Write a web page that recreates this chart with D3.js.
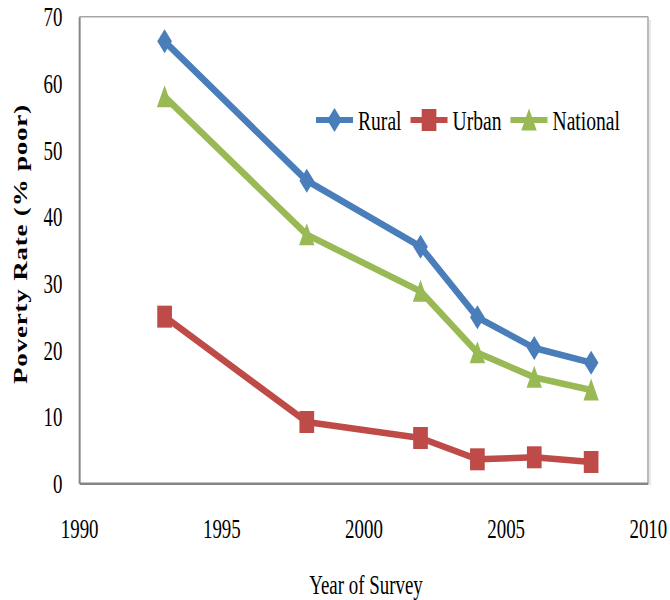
<!DOCTYPE html>
<meta charset="utf-8">
<style>
    body { margin: 0; background: #fff; }
    text { font-family: "Liberation Serif", "Times New Roman", serif; fill: #000; }
    .series path.line { fill: none; stroke-width: 6.5; stroke-linejoin: round; vector-effect: non-scaling-stroke; }
</style>
<svg width="670" height="600"></svg>

<script src="https://d3js.org/d3.v7.min.js"></script>
<script>
    // survey data
    var years = [1993, 1998, 2002, 2004, 2006, 2008];
    var rural = [66.3, 45.4, 35.5, 24.9, 20.3, 18.1];
    var urban = [25.0, 9.2, 6.8, 3.6, 3.9, 3.2];
    var national = [58.0, 37.3, 28.8, 19.6, 15.9, 14.0];
    var xTicks = [1990, 1995, 2000, 2005, 2010];
    var yTicks = [0, 10, 20, 30, 40, 50, 60, 70];

    var series = [
        { name: "Rural", values: rural, color: "#4A7EBB", shape: "diamond" },
        { name: "Urban", values: urban, color: "#BE4B48", shape: "square" },
        { name: "National", values: national, color: "#98B954", shape: "triangle" }
    ];

    // the original picture is squeezed sideways, so draw in a stretched space
    var sx = 0.7;
    var svg = d3.select("svg"),
        root = svg.append("g").attr("transform", "scale(" + sx + ",1)");

    var plotLeft = 79.3 / sx, plotRight = 648 / sx, plotTop = 16.7, plotBottom = 483.3;

    var x = d3.scaleLinear().domain([1990, 2010]).range([plotLeft, plotRight]);
    var y = d3.scaleLinear().domain([0, 70]).range([plotBottom, plotTop]);

    var shapes = {
        diamond: "M0,-12L10.5,0L0,12L-10.5,0Z",
        square: "M-10.5,-11L10.5,-11L10.5,11L-10.5,11Z",
        triangle: "M0,-11.5L11,10.5L-11,10.5Z"
    };

    // plot frame
    root.append("line").attr("x1", plotLeft).attr("x2", plotRight).attr("y1", plotTop).attr("y2", plotTop)
        .attr("stroke", "#a6a6a6").attr("stroke-width", 1.5).style("vector-effect", "non-scaling-stroke");
    root.append("line").attr("x1", plotRight).attr("x2", plotRight).attr("y1", plotTop).attr("y2", plotBottom)
        .attr("stroke", "#a6a6a6").attr("stroke-width", 1.5).style("vector-effect", "non-scaling-stroke");
    root.append("line").attr("x1", plotRight + 2 / sx).attr("x2", plotRight + 2 / sx).attr("y1", plotTop + 3).attr("y2", plotBottom + 2)
        .attr("stroke", "#e0e0e0").attr("stroke-width", 1.5).style("vector-effect", "non-scaling-stroke");

    // axes
    var yAxis = d3.axisLeft(y).tickValues(yTicks).tickSize(0).tickPadding(24);
    var xAxis = d3.axisBottom(x).tickValues(xTicks).tickSize(0).tickPadding(45).tickFormat(d3.format("d"));

    root.append("g").attr("transform", "translate(" + plotLeft + ",0)").call(yAxis)
        .call(function(g) {
            g.select(".domain").attr("stroke", "#868686").attr("stroke-width", 2).style("vector-effect", "non-scaling-stroke");
            g.selectAll("text").attr("font-size", 27).attr("font-family", "Liberation Serif").attr("fill", "#000").attr("dy", "0.34em");
        });
    root.append("g").attr("transform", "translate(0," + plotBottom + ")").call(xAxis)
        .call(function(g) {
            g.select(".domain").attr("stroke", "#868686").attr("stroke-width", 2.5).style("vector-effect", "non-scaling-stroke");
            g.selectAll("text").attr("font-size", 27).attr("font-family", "Liberation Serif").attr("fill", "#000").attr("dy", "0.35em");
        });

    // axis titles
    root.append("text")
        .attr("transform", "translate(" + (27 / sx) + "," + 244 + ") rotate(-90)")
        .attr("text-anchor", "middle")
        .attr("font-size", 27)
        .attr("font-weight", "bold")
        .attr("letter-spacing", 0.8)
        .text("Poverty Rate (% poor)");

    root.append("text")
        .attr("x", 366 / sx).attr("y", 585).attr("dy", "0.35em")
        .attr("text-anchor", "middle")
        .attr("font-size", 27)
        .text("Year of Survey");

    // lines and markers
    var line = d3.line()
        .x(function(d, i) { return x(years[i]); })
        .y(function(d) { return y(d); });

    var g = root.selectAll(".series").data(series).enter().append("g").attr("class", "series");
    g.append("path").attr("class", "line")
        .attr("stroke", function(d) { return d.color; })
        .attr("d", function(d) { return line(d.values); });
    g.each(function(s) {
        d3.select(this).selectAll(".marker").data(s.values).enter().append("path")
            .attr("class", "marker")
            .attr("d", shapes[s.shape])
            .attr("fill", s.color)
            .attr("transform", function(d, i) { return "translate(" + x(years[i]) + "," + y(d) + ")"; });
    });

    // legend
    var legend = root.append("g").attr("transform", "translate(" + (316 / sx) + ",120)");
    var lx = 0;
    series.forEach(function(s) {
        var item = legend.append("g").attr("transform", "translate(" + lx + ",0)");
        item.append("line").attr("x1", 0).attr("x2", 37 / sx).attr("y1", 0).attr("y2", 0)
            .attr("stroke", s.color).attr("stroke-width", 6).style("vector-effect", "non-scaling-stroke");
        item.append("path").attr("d", shapes[s.shape]).attr("fill", s.color)
            .attr("transform", "translate(" + (18.5 / sx) + ",0)");
        var t = item.append("text").attr("x", 42 / sx).attr("dy", "0.35em")
            .attr("font-size", 28).text(s.name);
        lx += 42 / sx + t.node().getComputedTextLength() + 9 / sx;
    });
</script>
